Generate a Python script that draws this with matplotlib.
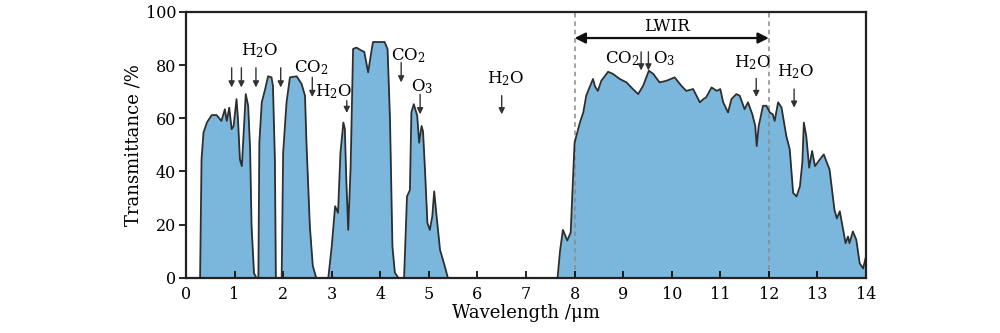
import numpy as np
import matplotlib
matplotlib.use("Agg")
import matplotlib.pyplot as plt

plt.rcParams['font.family'] = ['DejaVu Serif']
plt.rcParams['mathtext.fontset'] = 'dejavuserif'

# transmission windows (wavelength um, transmittance %)
wl_1 = [0.29, 0.32, 0.36, 0.43, 0.53, 0.63, 0.73, 0.80, 0.84, 0.89, 0.94,
        0.98, 1.04, 1.07, 1.11, 1.15, 1.18, 1.23, 1.28, 1.32, 1.35, 1.40, 1.45]
tr_1 = [0, 44.5, 54.6, 58.4, 61.2, 61.2, 59, 63.4, 59, 64, 55.9,
        57.1, 67.2, 59.7, 44.5, 42, 52, 69.1, 64.7, 48.3, 19.3, 1.7, 0]

wl_2 = [1.49, 1.51, 1.56, 1.63, 1.69, 1.76, 1.79, 1.83, 1.85]
tr_2 = [0, 50.8, 66, 71, 75.8, 75.4, 72.2, 44.5, 0]

wl_3 = [1.97, 2.00, 2.07, 2.14, 2.28, 2.38, 2.45, 2.48, 2.55, 2.61, 2.68]
tr_3 = [0, 47, 66, 75.4, 75.8, 72.9, 68.5, 50.8, 19.3, 4.5, 0]

wl_4 = [2.93, 3.00, 3.07, 3.13, 3.18, 3.24, 3.27, 3.30, 3.34, 3.39, 3.44,
        3.51, 3.61, 3.67, 3.75, 3.82, 3.85, 4.09, 4.15, 4.20, 4.25, 4.30, 4.37]
tr_4 = [0, 11.7, 26.9, 24.4, 47, 58.4, 56, 37, 18, 42, 86.1,
        86.6, 85.5, 85, 77.3, 85.5, 88.7, 88.7, 86, 59.6, 11.7, 1.9, 0]

wl_5 = [4.49, 4.55, 4.61, 4.64, 4.69, 4.76, 4.80, 4.85, 4.88, 4.92, 4.97,
        5.02, 5.07, 5.11, 5.16, 5.23, 5.33, 5.39]
tr_5 = [0, 30.6, 33, 62.2, 65.3, 61, 50.8, 57.1, 55, 40.7, 20.6,
        18, 23, 32.5, 23, 10.5, 4.2, 0]

wl_6 = [7.65, 7.70, 7.76, 7.85, 7.92, 8.00, 8.11, 8.18, 8.24, 8.35, 8.38,
        8.42, 8.48, 8.55, 8.69, 8.79, 8.93, 9.07, 9.20, 9.31, 9.41, 9.53,
        9.62, 9.75, 9.89, 10.06, 10.20, 10.30, 10.44, 10.58, 10.65, 10.71,
        10.82, 10.93, 11.00, 11.06, 11.16, 11.23, 11.33, 11.40, 11.50, 11.57,
        11.66, 11.72, 11.75, 11.79, 11.88, 11.95, 12.02, 12.08, 12.12, 12.19,
        12.26, 12.36, 12.43, 12.50, 12.57, 12.64, 12.69, 12.72, 12.77, 12.83,
        12.89, 12.95, 13.05, 13.13, 13.25, 13.35, 13.40, 13.46, 13.53, 13.58,
        13.63, 13.66, 13.73, 13.80, 13.87, 13.94, 14.0]
tr_6 = [0, 10, 18, 14, 17, 50.8, 58.4, 62.2, 68.5, 73.5, 74.8,
        72, 70.3, 74.1, 77.5, 76.7, 74.8, 73.5, 71, 69.1, 72.2, 77.9,
        76.7, 73.5, 74.1, 75.4, 72.2, 70.3, 71, 66, 67.2, 67.9,
        71.6, 70.3, 71, 66, 62.2, 67.2, 69.1, 68.5, 63.4, 66,
        61.5, 57.1, 49.5, 57, 64.7, 64.7, 62.2, 61.5, 59, 66,
        64.1, 53.3, 48.3, 31.9, 30.6, 34.4, 43.5, 58.4, 53.3, 41.4,
        47.7, 42, 44.5, 46.4, 40.7, 25.6, 22.3, 25, 18, 13,
        15.5, 13, 17.4, 14.3, 5.4, 3.5, 8]

# absorber arrows: x, top, bottom
arrow_x = [0.94, 1.14, 1.44, 1.95, 2.6, 3.31, 4.43, 4.82, 6.5, 9.37, 9.52, 11.74, 12.52]
arrow_top = [79, 79, 79, 79, 75.4, 66.6, 81, 69, 68.5, 85, 85, 75, 71]
arrow_bot = [71.6, 71.6, 71.6, 71.6, 68, 62, 73.5, 61.5, 61.5, 78, 78, 68, 64]

label_x = [1.52, 2.58, 3.04, 4.57, 4.86, 6.57, 8.98, 9.85, 11.66, 12.55]
label_y = [85.5, 79, 70, 83.6, 72, 74.8, 82.6, 82.6, 81, 77.5]
label_txt = [r'H$_2$O', r'CO$_2$', r'H$_2$O', r'CO$_2$', r'O$_3$',
             r'H$_2$O', r'CO$_2$', r'O$_3$', r'H$_2$O', r'H$_2$O']

lwir_lo, lwir_hi = 8, 12

fig = plt.figure(figsize=(10, 3.33), dpi=100)
ax = fig.add_axes([0.186, 0.166, 0.680, 0.798])

for w, t in [(wl_1, tr_1), (wl_2, tr_2), (wl_3, tr_3),
             (wl_4, tr_4), (wl_5, tr_5), (wl_6, tr_6)]:
    ax.fill_between(w, t, 0, color='#7bb7dd', lw=0)
    ax.plot(w, t, color='#2e2e2e', lw=1.3)

# LWIR window
for xv in (lwir_lo, lwir_hi):
    ax.axvline(xv, color='#8a8a8a', ls=(0, (3, 2.5)), lw=1.1, zorder=1.5)
ax.annotate('', xy=(lwir_lo, 90.2), xytext=(lwir_hi, 90.2),
            arrowprops=dict(arrowstyle='<|-|>', color='#111111', lw=1.6,
                            mutation_scale=16, shrinkA=0, shrinkB=0))
ax.text((lwir_lo + lwir_hi) / 2 - 0.1, 94.4, 'LWIR', ha='center', va='center',
        fontsize=12)

for x, t, b in zip(arrow_x, arrow_top, arrow_bot):
    ax.annotate('', xy=(x, b), xytext=(x, t),
                arrowprops=dict(arrowstyle='-|>', color='#333333', lw=1.0,
                                mutation_scale=9, shrinkA=0, shrinkB=0))

for x, y, s in zip(label_x, label_y, label_txt):
    ax.text(x, y, s, ha='center', va='center', fontsize=12)

ax.set_xlim(0, 14)
ax.set_ylim(0, 100)
ax.set_xticks(range(0, 15))
ax.set_yticks(range(0, 101, 20))
ax.tick_params(axis='x', direction='in', length=5, width=1.2, labelsize=11.5, pad=6)
ax.tick_params(axis='y', direction='out', length=5, width=1.2, labelsize=11.5, pad=2)
for sp in ax.spines.values():
    sp.set_linewidth(1.6)
    sp.set_color('#222222')

ax.set_xlabel('Wavelength /μm', fontsize=13, labelpad=1)
ax.set_ylabel('Transmittance /%', fontsize=13, labelpad=2)

fig.savefig('out.png', dpi=100)
